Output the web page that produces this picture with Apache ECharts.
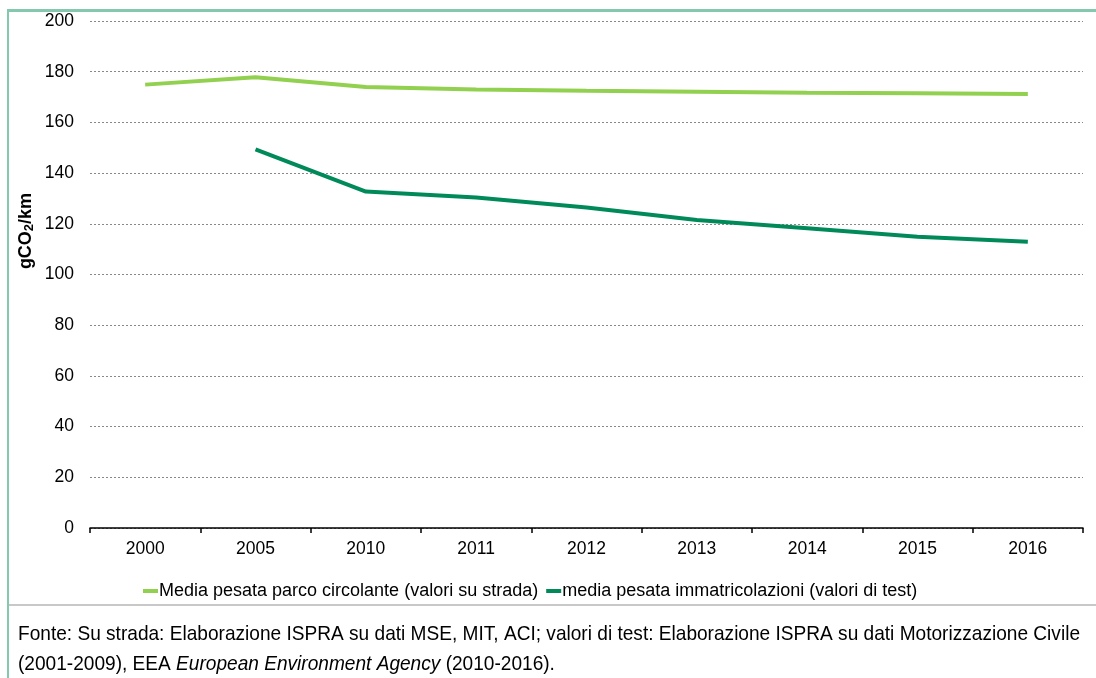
<!DOCTYPE html>
<html><head><meta charset="utf-8">
<script src="https://cdn.jsdelivr.net/npm/echarts@6/dist/echarts.min.js"></script>
<style>html,body{margin:0;padding:0;background:#fff}#c{width:1096px;height:678px}</style>
</head><body><div id="c"></div>
<script>
const categories = ['2000','2005','2010','2011','2012','2013','2014','2015','2016'];
const seriesRoad = [174.9, 177.8, 174.0, 173.0, 172.5, 172.1, 171.7, 171.5, 171.2];
const seriesTest = [null, 149.4, 132.7, 130.4, 126.4, 121.5, 118.2, 114.9, 112.9];
const yTicks = {min: 0, max: 200, interval: 20};
const nameRoad = 'Media pesata parco circolante (valori su strada)';
const nameTest = 'media pesata immatricolazioni (valori di test)';
const footer1 = 'Fonte: Su strada: Elaborazione ISPRA su dati MSE, MIT, ACI; valori di test: Elaborazione ISPRA su dati Motorizzazione Civile';
const footer2a = '(2001-2009), EEA ';
const footer2b = 'European Environment Agency';
const footer2c = ' (2010-2016).';

const FONT = '"Liberation Sans", Arial, sans-serif';
const FS = 21;
const cv = document.createElement('canvas').getContext('2d');
cv.font = FS + 'px ' + FONT;
const w1 = cv.measureText(footer1).width;
const sx = 1062 / w1;

const chart = echarts.init(document.getElementById('c'), null, {renderer: 'canvas'});
chart.setOption({
  backgroundColor: '#fff',
  animation: false,
  grid: {left: 90, right: 13, top: 21, bottom: 150, containLabel: false},
  legend: {
    left: 143, top: 582, padding: 0,
    itemWidth: 15, itemHeight: 4, itemGap: 8,
    icon: 'rect',
    textStyle: {fontFamily: FONT, fontSize: 18, color: '#000', padding: [0,0,0,-4]},
    data: [nameRoad, nameTest]
  },
  xAxis: {
    type: 'category', data: categories, boundaryGap: true,
    axisLine: {lineStyle: {color: '#000', width: 1.5}},
    axisTick: {show: true, length: 5, inside: false, lineStyle: {color: '#000', width: 1.5}},
    axisLabel: {fontFamily: FONT, fontSize: 17.5, color: '#000', margin: 12}
  },
  yAxis: {
    type: 'value', min: yTicks.min, max: yTicks.max, interval: yTicks.interval,
    axisLine: {show: false}, axisTick: {show: false},
    axisLabel: {fontFamily: FONT, fontSize: 17.5, color: '#000', margin: 16},
    splitLine: {lineStyle: {color: '#888', type: [2, 2], width: 1}}
  },
  series: [
    {name: nameRoad, type: 'line', data: seriesRoad, symbol: 'none', smooth: false,
     lineStyle: {color: '#92d050', width: 4}, itemStyle: {color: '#92d050'}},
    {name: nameTest, type: 'line', data: seriesTest, symbol: 'none', smooth: false, connectNulls: false,
     lineStyle: {color: '#008a5a', width: 4}, itemStyle: {color: '#008a5a'}}
  ],
  graphic: [
    {type: 'rect', shape: {x: 7, y: 9, width: 1089, height: 3}, style: {fill: '#84c8ad'}, silent: true},
    {type: 'rect', shape: {x: 7, y: 9, width: 2, height: 669}, style: {fill: '#84c8ad'}, silent: true},
    {type: 'rect', shape: {x: 9, y: 604, width: 1087, height: 2}, style: {fill: '#c8c8c8'}, silent: true},
    {type: 'text', x: 26, y: 231, rotation: Math.PI / 2, style: {
      text: '{a|gCO}{s|2}{a|/km}', align: 'center', verticalAlign: 'middle',
      rich: {
        a: {fontFamily: FONT, fontSize: 18, fontWeight: 'bold', fill: '#000'},
        s: {fontFamily: FONT, fontSize: 13, fontWeight: 'bold', fill: '#000', verticalAlign: 'bottom', padding: [7,0,0,0]}
      }}},
    {type: 'text', x: 18, y: 634, scaleX: sx, style: {
      text: footer1, font: FS + 'px ' + FONT, fill: '#000', verticalAlign: 'middle'}},
    {type: 'text', x: 18, y: 664, scaleX: sx, style: {
      text: footer2a + '{i|' + footer2b + '}' + footer2c,
      font: FS + 'px ' + FONT, fill: '#000', verticalAlign: 'middle',
      rich: {i: {fontStyle: 'italic', fontFamily: FONT, fontSize: FS, fill: '#000'}}}}
  ]
});
</script></body></html>
